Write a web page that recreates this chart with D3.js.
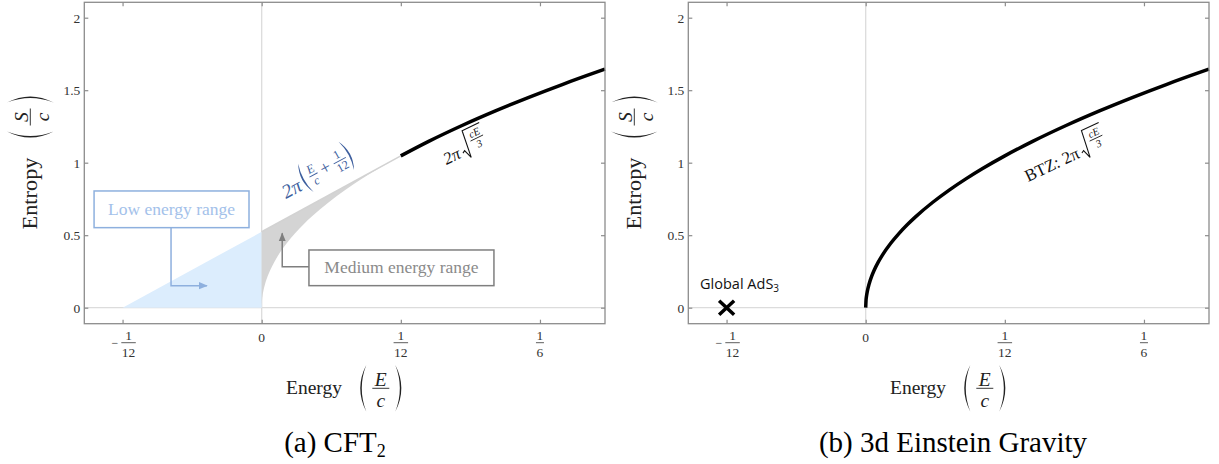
<!DOCTYPE html>
<html>
<head>
<meta charset="utf-8">
<script src="https://cdn.jsdelivr.net/npm/d3@7/dist/d3.min.js"></script>
<style>
	body { margin: 0; background: #fff; }
	svg { display: block; }
</style>
</head>
<body>
<script>
// tick values and labels
var energyTicks = [-1 / 12, 0, 1 / 12, 1 / 6];
var energyTickLabels = ["-1/12", "0", "1/12", "1/6"];
var entropyTicks = [0, 0.5, 1, 1.5, 2];
var entropyTickLabels = ["0", "0.5", "1", "1.5", "2"];

// BTZ / Cardy curve S/c against E/c
var btzEnergy = [0, 0.0002, 0.0005, 0.001, 0.002, 0.0035, 0.005, 0.0075, 0.01, 0.015, 0.02, 0.025,
	0.03, 0.04, 0.05, 0.06, 0.07, 0.0833, 0.1, 0.12, 0.14, 0.16, 0.18, 0.2, 0.2056];
var btzEntropy = [0, 0.0513, 0.0811, 0.1147, 0.1622, 0.2146, 0.2565, 0.3142, 0.3628, 0.4443, 0.5130, 0.5736,
	0.6283, 0.7255, 0.8112, 0.8886, 0.9598, 1.0470, 1.1471, 1.2566, 1.3573, 1.4510, 1.5391, 1.6223, 1.6449];

// low energy range (triangle)
var lowRangeEnergy = [-0.0833, 0, 0];
var lowRangeEntropy = [0, 0, 0.5236];

// upper edge of the medium energy range
var mediumEnergy = [0, 0.0833];
var mediumEntropy = [0.5236, 1.0470];

// global AdS3 point
var adsEnergy = [-0.0833];
var adsEntropy = [0];

var cardyStart = 0.0833;

var width = 1219,
	height = 464,
	frameW = 520.7,
	frameH = 321.4,
	panelX = [84.3, 688.3],
	panelY = 2.3,
	serif = "'Liberation Serif', 'Times New Roman', serif",
	sans = "'Open Sans', 'Noto Sans', sans-serif",
	frameColor = "#8c8c8c";

var x = d3.scaleLinear().domain([-0.10625, 0.20562]).range([0, frameW]);
var y = d3.scaleLinear().domain([-0.1104, 2.1062]).range([frameH, 0]);

var line = d3.line()
	.x(function (d) { return x(d[0]); })
	.y(function (d) { return y(d[1]); })
	.curve(d3.curveMonotoneX);

function zip(a, b) {
	return a.map(function (v, i) { return [v, b[i]]; });
}

function translate(tx, ty) {
	return "translate(" + tx + "," + ty + ")";
}

// "(" when side = -1, ")" when side = 1
function paren(g, x0, yTop, yBot, side, color) {
	var ym = (yTop + yBot) / 2,
		b = (yBot - yTop) * 0.13,
		t = 1.5;
	var c1 = x0 + side * 2 * b,
		c2 = x0 + side * (2 * b - 2 * t);
	g.append("path")
		.attr("d", "M" + x0 + "," + yTop + "Q" + c1 + "," + ym + " " + x0 + "," + yBot +
			"Q" + c2 + "," + ym + " " + x0 + "," + yTop + "Z")
		.attr("fill", color);
}

function frac(g, cx, yBar, num, den, o) {
	g.append("text")
		.attr("x", cx).attr("y", yBar - o.numDy)
		.attr("text-anchor", "middle")
		.attr("font-family", o.family || serif)
		.attr("font-style", o.italic ? "italic" : "normal")
		.attr("font-size", o.size + "px")
		.attr("fill", o.color)
		.text(num);
	g.append("line")
		.attr("x1", cx - o.barW / 2).attr("x2", cx + o.barW / 2)
		.attr("y1", yBar).attr("y2", yBar)
		.attr("stroke", o.color)
		.attr("stroke-width", o.barH || 0.9);
	g.append("text")
		.attr("x", cx).attr("y", yBar + o.denDy)
		.attr("text-anchor", "middle")
		.attr("font-family", o.family || serif)
		.attr("font-style", o.italic ? "italic" : "normal")
		.attr("font-size", o.size + "px")
		.attr("fill", o.color)
		.text(den);
}

// bracketed fraction used for the axis titles
function fracLabel(g, num, den) {
	frac(g, 0, 0, num, den, { size: 19.5, numDy: 2.5, denDy: 18.5, barW: 17, barH: 0.9, color: "#222", italic: true });
	paren(g, -14.5, -23.3, 23.3, -1, "#222");
	paren(g, 14.5, -23.3, 23.3, 1, "#222");
}

// 2π sqrt(cE/3) with a prefix
function sqrtLabel(g, prefix, italic) {
	var t = g.append("text")
		.attr("x", 0).attr("y", 0)
		.attr("font-family", serif)
		.attr("font-style", italic ? "italic" : "normal")
		.attr("font-size", "17px")
		.attr("fill", "#111")
		.text(prefix);
	var r = t.node().getComputedTextLength() + 3;
	g.append("path")
		.attr("d", "M" + r + ",-3.5 L" + (r + 2.5) + ",-5 L" + (r + 5.5) + ",4 L" + (r + 9) + ",-24 L" + (r + 28) + ",-24")
		.attr("fill", "none")
		.attr("stroke", "#111")
		.attr("stroke-width", 1.1);
	frac(g, r + 19, -11, "cE", "3", { size: 10.5, numDy: 2.5, denDy: 9.5, barW: 14, barH: 0.8, color: "#111", italic: true });
}

function tickLabel(g, cx, label) {
	var neg = label.charAt(0) === "-",
		body = neg ? label.slice(1) : label,
		parts = body.split("/");
	if (parts.length === 1) {
		g.append("text")
			.attr("x", cx).attr("y", 18.5)
			.attr("text-anchor", "middle")
			.attr("font-family", serif)
			.attr("font-size", "13.5px")
			.attr("fill", "#333")
			.text(body);
		return;
	}
	var barW = parts[1].length * 6.5 + 1.5,
		fx = cx;
	if (neg) {
		fx = cx + 6;
		g.append("text")
			.attr("x", fx - barW / 2 - 3).attr("y", 23.2)
			.attr("text-anchor", "end")
			.attr("font-family", serif)
			.attr("font-size", "12px")
			.attr("fill", "#333")
			.text("\u2212");
	}
	frac(g, fx, 19, parts[0], parts[1], { size: 13.5, numDy: 2.7, denDy: 14, barW: barW, barH: 0.8, color: "#333" });
}

function box(g, e0, e1, s0, s1, label, stroke, fill) {
	g.append("rect")
		.attr("x", x(e0)).attr("y", y(s0))
		.attr("width", x(e1) - x(e0)).attr("height", y(s1) - y(s0))
		.attr("fill", "#fff")
		.attr("stroke", stroke)
		.attr("stroke-width", 1.5);
	g.append("text")
		.attr("x", (x(e0) + x(e1)) / 2).attr("y", (y(s0) + y(s1)) / 2 + 5.5)
		.attr("text-anchor", "middle")
		.attr("font-family", serif)
		.attr("font-size", "17.5px")
		.attr("fill", fill)
		.text(label);
}

function arrow(g, pts, color, markerId) {
	g.append("path")
		.attr("d", d3.line()(pts.map(function (p) { return [x(p[0]), y(p[1])]; })))
		.attr("fill", "none")
		.attr("stroke", color)
		.attr("stroke-width", 1.5)
		.attr("marker-end", "url(#" + markerId + ")");
}

var svg = d3.select("body").append("svg")
	.attr("width", width)
	.attr("height", height)
	.attr("xmlns", "http://www.w3.org/2000/svg");

var defs = svg.append("defs");
[["arrowBlue", "#8eb0de"], ["arrowGrey", "#7f7f7f"]].forEach(function (m) {
	defs.append("marker")
		.attr("id", m[0])
		.attr("viewBox", "0 0 10 10")
		.attr("refX", 9).attr("refY", 5)
		.attr("markerWidth", 6).attr("markerHeight", 6)
		.attr("markerUnits", "strokeWidth")
		.attr("orient", "auto")
		.append("path")
		.attr("d", "M0,1 L10,5 L0,9 Z")
		.attr("fill", m[1]);
});

function paint(i) {
	var g = svg.append("g").attr("transform", translate(panelX[i], panelY));

	// axes through the origin
	g.append("line")
		.attr("x1", x(0)).attr("x2", x(0)).attr("y1", 0).attr("y2", frameH)
		.attr("stroke", "#dcdcdc").attr("stroke-width", 1.3);
	g.append("line")
		.attr("x1", 0).attr("x2", frameW).attr("y1", y(0)).attr("y2", y(0))
		.attr("stroke", "#dcdcdc").attr("stroke-width", 1.3);

	var btz = zip(btzEnergy, btzEntropy);

	if (i === 0) {
		// low energy range
		g.append("path")
			.attr("d", d3.line()(zip(lowRangeEnergy, lowRangeEntropy).map(function (p) { return [x(p[0]), y(p[1])]; })) + "Z")
			.attr("fill", "#dcedfd");

		// medium energy range
		var lower = btz.filter(function (d) { return d[0] <= cardyStart; });
		var upper = zip(mediumEnergy, mediumEntropy).reverse();
		var d = line(lower) + upper.map(function (p) { return "L" + x(p[0]) + "," + y(p[1]); }).join("") + "Z";
		g.append("path").attr("d", d).attr("fill", "#d4d4d4");
		g.append("path")
			.attr("d", d3.line()(zip(mediumEnergy, mediumEntropy).map(function (p) { return [x(p[0]), y(p[1])]; })))
			.attr("fill", "none").attr("stroke", "#d2d2d2").attr("stroke-width", 1.5);

		g.append("path")
			.attr("d", line(btz.filter(function (d) { return d[0] >= cardyStart; })))
			.attr("fill", "none").attr("stroke", "#000").attr("stroke-width", 3.5);
	} else {
		g.append("path")
			.attr("d", line(btz))
			.attr("fill", "none").attr("stroke", "#000").attr("stroke-width", 3.5);

		g.selectAll("g.ads")
			.data(zip(adsEnergy, adsEntropy))
			.enter()
			.append("path")
			.attr("d", function (p) {
				var cx = x(p[0]), cy = y(p[1]);
				return "M" + (cx - 7.5) + "," + (cy - 7) + "L" + (cx + 7.5) + "," + (cy + 7) +
					"M" + (cx - 7.5) + "," + (cy + 7) + "L" + (cx + 7.5) + "," + (cy - 7);
			})
			.attr("stroke", "#000").attr("stroke-width", 3.5).attr("fill", "none");
	}

	// frame
	g.append("rect")
		.attr("width", frameW).attr("height", frameH)
		.attr("fill", "none")
		.attr("stroke", frameColor)
		.attr("stroke-width", 1.3);

	var left = g.append("g").call(d3.axisLeft(y).tickValues(entropyTicks)
		.tickFormat(function (d, k) { return entropyTickLabels[k]; })
		.tickSizeInner(-4).tickSizeOuter(0).tickPadding(4));
	var right = g.append("g").attr("transform", translate(frameW, 0))
		.call(d3.axisRight(y).tickValues(entropyTicks).tickFormat("").tickSizeInner(-4).tickSizeOuter(0));
	var top = g.append("g")
		.call(d3.axisTop(x).tickValues(energyTicks).tickFormat("").tickSizeInner(-4).tickSizeOuter(0));
	var bottom = g.append("g").attr("transform", translate(0, frameH))
		.call(d3.axisBottom(x).tickValues(energyTicks).tickFormat("").tickSizeInner(-4).tickSizeOuter(0));

	[left, right, top, bottom].forEach(function (a) {
		a.select(".domain").remove();
		a.selectAll(".tick line").attr("stroke", frameColor).attr("stroke-width", 1.2);
	});
	left.selectAll(".tick text")
		.attr("font-family", serif)
		.attr("font-size", "13.5px")
		.attr("fill", "#333");

	energyTicks.forEach(function (v, k) {
		tickLabel(bottom, x(v), energyTickLabels[k]);
	});

	// axis titles
	svg.append("text")
		.attr("transform", translate(panelX[i] - 47.5, 193.5) + " rotate(-90)")
		.attr("text-anchor", "middle")
		.attr("font-family", serif)
		.attr("font-size", "20px")
		.attr("textLength", 72)
		.attr("lengthAdjust", "spacingAndGlyphs")
		.attr("fill", "#222")
		.text("Entropy");
	fracLabel(svg.append("g").attr("transform", translate(panelX[i] - 54, 117) + " rotate(-90)"), "S", "c");

	svg.append("text")
		.attr("x", panelX[i] + 257.7).attr("y", 394)
		.attr("text-anchor", "end")
		.attr("font-family", serif)
		.attr("font-size", "19px")
		.attr("textLength", 56)
		.attr("lengthAdjust", "spacingAndGlyphs")
		.attr("fill", "#222")
		.text("Energy");
	fracLabel(svg.append("g").attr("transform", translate(panelX[i] + 296.5, 388.3)), "E", "c");

	return g;
}

// (a) CFT2
var ga = paint(0);

box(ga, -0.1004, -0.0076, 0.805, 0.552, "Low energy range", "#8eb0de", "#a3c1ea");
arrow(ga, [[-0.0543, 0.552], [-0.0543, 0.152], [-0.0328, 0.152]], "#8eb0de", "arrowBlue");

box(ga, 0.0283, 0.1391, 0.398, 0.152, "Medium energy range", "#7f7f7f", "#8a8a8a");
arrow(ga, [[0.0283, 0.283], [0.0123, 0.283], [0.0123, 0.513]], "#7f7f7f", "arrowGrey");

// 2π(E/c + 1/12)
var f1 = ga.append("g").attr("transform", translate(x(0.0146), y(0.749)) + " rotate(-28.6) scale(1.15)");
var blue = "#3e5f9e";
f1.append("text")
	.attr("x", 0).attr("y", 0)
	.attr("font-family", serif).attr("font-style", "italic")
	.attr("font-size", "17px").attr("fill", blue)
	.text("2\u03c0");
paren(f1, 24, -22, 6, -1, blue);
frac(f1, 31, -7, "E", "c", { size: 10.5, numDy: 2.5, denDy: 9, barW: 8, barH: 0.8, color: blue, italic: true });
f1.append("text")
	.attr("x", 43).attr("y", -2.5)
	.attr("text-anchor", "middle")
	.attr("font-family", serif).attr("font-size", "16px").attr("fill", blue)
	.text("+");
frac(f1, 57, -7, "1", "12", { size: 10.5, numDy: 2.5, denDy: 9, barW: 12, barH: 0.8, color: blue });
paren(f1, 64, -22, 6, 1, blue);

sqrtLabel(ga.append("g").attr("transform", translate(x(0.1107), y(0.984)) + " rotate(-26)"), "2\u03c0", true);

// (b) 3d Einstein gravity
var gb = paint(1);

sqrtLabel(gb.append("g").attr("transform", translate(x(0.0972), y(0.867)) + " rotate(-25)"), "BTZ: 2\u03c0", false);

var ads = gb.append("text")
	.attr("x", x(-0.0992)).attr("y", y(0.130))
	.attr("font-family", sans)
	.attr("font-size", "14.5px")
	.attr("fill", "#111")
	.text("Global AdS");
ads.append("tspan")
	.attr("dy", 3.5)
	.attr("font-size", "10px")
	.text("3");

// captions
var capA = svg.append("text")
	.attr("x", 335).attr("y", 452)
	.attr("text-anchor", "middle")
	.attr("font-family", serif)
	.attr("font-size", "29px")
	.attr("fill", "#000")
	.text("(a) CFT");
capA.append("tspan").attr("dy", 5).attr("font-size", "18px").text("2");

svg.append("text")
	.attr("x", 953).attr("y", 452)
	.attr("text-anchor", "middle")
	.attr("font-family", serif)
	.attr("font-size", "29px")
	.attr("fill", "#000")
	.text("(b) 3d Einstein Gravity");
</script>
</body>
</html>
